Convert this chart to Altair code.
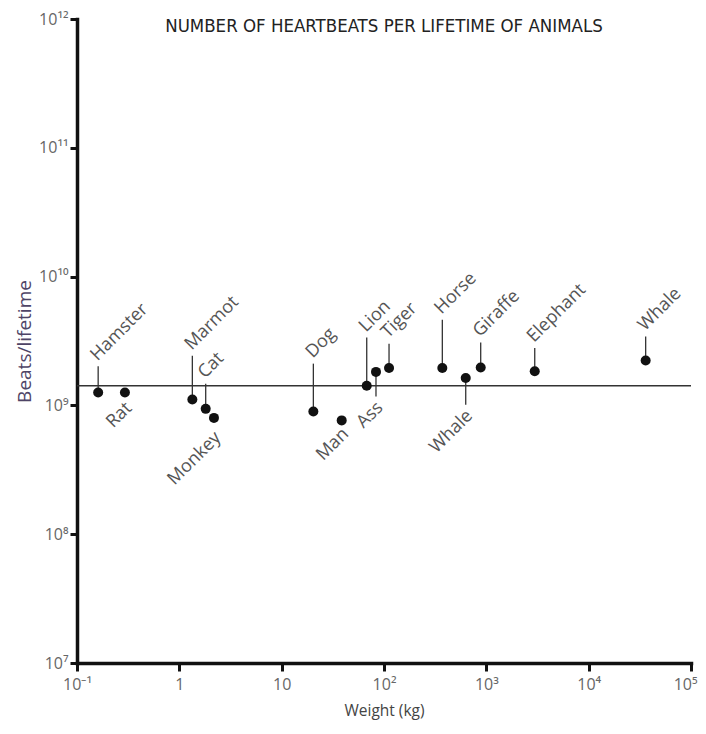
import altair as alt
import pandas as pd

# ---- data ----
names = ["Hamster", "Rat", "Marmot", "Cat", "Monkey", "Dog", "Man", "Lion",
         "Ass", "Tiger", "Horse", "Whale", "Giraffe", "Elephant", "Whale"]
weights_kg = [0.161, 0.294, 1.34, 1.81, 2.18, 20.4, 38.6, 67.8,
              83.5, 112, 371.5, 629, 881, 2972, 36060]
beats_per_lifetime = [1.26e9, 1.26e9, 1.11e9, 0.94e9, 0.80e9, 0.898e9, 0.765e9, 1.42e9,
                      1.82e9, 1.95e9, 1.95e9, 1.63e9, 1.97e9, 1.84e9, 2.23e9]
# where each label's leader line ends (in beats/lifetime units)
label_anchor = [2.01e9, 1.16e9, 2.43e9, 1.47e9, 0.684e9, 2.11e9, 0.73e9, 3.36e9,
                1.17e9, 3.01e9, 4.63e9, 1.01e9, 3.08e9, 2.79e9, 3.43e9]
label_side = ["above", "below", "above", "above", "below", "above", "below", "above",
              "below", "above", "above", "below", "above", "above", "above"]
has_stem = [True, False, True, True, False, True, False, True,
            True, True, True, True, True, True, True]
average_beats = [1.42e9]

x_ticks = [0.1, 1, 10, 100, 1000, 10000, 100000]
x_tick_labels = ["10⁻¹", "1", "10", "10²", "10³", "10⁴", "10⁵"]
y_ticks = [1e7, 1e8, 1e9, 1e10, 1e11, 1e12]
y_tick_labels = ["10⁷", "10⁸", "10⁹", "10¹⁰", "10¹¹", "10¹²"]

df = pd.DataFrame({
    "animal": names,
    "weight": weights_kg,
    "beats": beats_per_lifetime,
    "anchor": label_anchor,
    "side": label_side,
    "stem": has_stem,
})
avg_df = pd.DataFrame({"avg": average_beats})

label_font = "Open Sans"
x_expr = "[" + ",".join(f"'{s}'" for s in x_tick_labels) + "][round(log(datum.value)/LN10)+1]"
y_expr = "[" + ",".join(f"'{s}'" for s in y_tick_labels) + "][round(log(datum.value)/LN10)-7]"

x_scale = alt.Scale(type="log", domain=[0.1, 100000], nice=False)
y_scale = alt.Scale(type="log", domain=[1e7, 1e12], nice=False)

x_enc = alt.X("weight:Q", scale=x_scale,
              axis=alt.Axis(title="Weight (kg)", values=x_ticks, labelExpr=x_expr,
                            grid=False, domainWidth=3.5, domainColor="#111",
                            domainCap="square", tickWidth=3, tickSize=8,
                            tickColor="#111", labelFont=label_font, labelFontSize=16,
                            labelColor="#666", labelPadding=5, labelFlush=False,
                            labelAlign={"condition": {"test": "datum.value >= 100000", "value": "right"},
                                        "value": "center"},
                            labelOffset={"condition": {"test": "datum.value >= 100000", "value": 6},
                                         "value": 0},
                            titleFont=label_font, titleFontSize=15.5,
                            titleFontWeight="normal", titleColor="#444",
                            titlePadding=11))
y_axis = alt.Axis(title="Beats/lifetime", values=y_ticks, labelExpr=y_expr,
                  grid=False, domainWidth=3.5, domainColor="#111", domainCap="square",
                  tickWidth=3, tickSize=7, tickColor="#111", labelFont=label_font,
                  labelFontSize=16, labelColor="#666", labelPadding=2, labelFlush=False,
                  titleFont=label_font, titleFontSize=19, titleFontWeight="normal",
                  titleColor="#4e4466", titlePadding=4)

base = alt.Chart(df)

avg_line = alt.Chart(avg_df).mark_rule(color="#333", strokeWidth=1.5).encode(
    y=alt.Y("avg:Q", scale=y_scale, axis=y_axis)
)

stems = base.transform_filter("datum.stem").mark_rule(color="#333", strokeWidth=1.3).encode(
    x=x_enc,
    y=alt.Y("beats:Q", scale=y_scale, axis=y_axis),
    y2="anchor:Q",
)

points = base.mark_circle(size=100, color="#111", opacity=1).encode(
    x=x_enc,
    y=alt.Y("beats:Q", scale=y_scale, axis=y_axis),
)

labels_above = base.transform_filter("datum.side == 'above'").mark_text(
    angle=315, align="left", baseline="bottom", dx=3,
    font=label_font, fontSize=18, color="#555"
).encode(
    x=x_enc,
    y=alt.Y("anchor:Q", scale=y_scale, axis=y_axis),
    text="animal:N",
)

labels_below = base.transform_filter("datum.side == 'below'").mark_text(
    angle=315, align="right", baseline="top", dx=-3,
    font=label_font, fontSize=18, color="#555"
).encode(
    x=x_enc,
    y=alt.Y("anchor:Q", scale=y_scale, axis=y_axis),
    text="animal:N",
)

chart = alt.layer(avg_line, stems, points, labels_above, labels_below).properties(
    width=614,
    height=644,
    autosize=alt.AutoSizeParams(type="none"),
    padding={"left": 69, "top": 11, "right": 7, "bottom": 60},
    title=alt.TitleParams(
        "NUMBER OF HEARTBEATS PER LIFETIME OF ANIMALS",
        font="Liberation Sans Narrow, DejaVu Sans Condensed, sans-serif",
        fontSize=18.5, fontWeight="normal", color="#222",
        anchor="middle", frame="group", baseline="middle", offset=0, dy=33,
    ),
).configure_view(strokeWidth=0)

chart.save("out.html", embed_options={"renderer": "svg", "actions": False})
